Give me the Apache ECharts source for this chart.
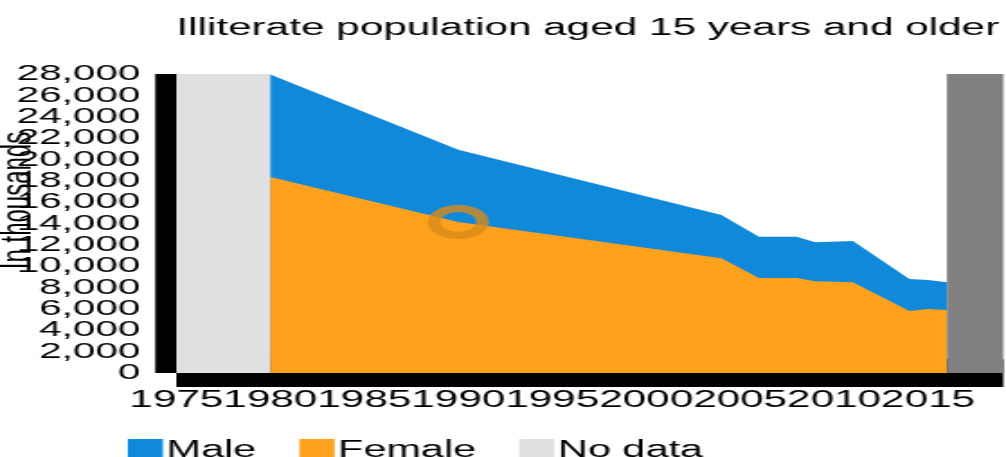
<!DOCTYPE html>
<html>
<head>
<meta charset="utf-8">
<title>Illiterate population aged 15 years and older</title>
<script src="https://cdn.jsdelivr.net/npm/echarts@6/dist/echarts.min.js"></script>
<style>
  html, body { margin: 0; padding: 0; overflow: hidden; background: #fff; }
  /* the chart is laid out on a narrow canvas and widened to the page width */
  #chart { width: 559px; height: 457px; transform: scaleX(1.7996); transform-origin: 0 0; }
</style>
</head>
<body>
<div id="chart"></div>
<script>
// Survey years with data
const years = [1980, 1990, 2004, 2006, 2008, 2009, 2011, 2014, 2015, 2016];
// Illiterate women, thousands
const female = [18350, 14150, 10750, 8900, 8900, 8600, 8500, 5800, 6000, 5900];
// Illiterate men, thousands
const male = [9600, 6750, 4050, 3850, 3850, 3650, 3850, 3000, 2700, 2600];
// Spans without survey figures
const noDataSpans = [[1975, 1980]];
const laterSpan = [2016, 2019];
// Year marked with a ring
const markedYear = 1990;
// Value-axis tick labels
const yTicks = [0, 2000, 4000, 6000, 8000, 10000, 12000, 14000, 16000, 18000, 20000, 22000, 24000, 26000, 28000];

const FONT = '"Liberation Sans", Arial, Helvetica, sans-serif';
const blue = '#1189DB';
const orange = '#FFA11D';
const lightGray = '#E0E0E0';
const darkGray = '#808080';

// men are drawn as the band between the women's total and the combined total
const totalPts = years.map((y, i) => [y, female[i] + male[i]]);
const femalePts = years.map((y, i) => [y, female[i]]);
const ringIdx = years.indexOf(markedYear);

// the tick labels sit closer than their own height, so they are split over two
// coincident axes to keep every one of them drawn
const yTicksEven = yTicks.filter((_, i) => i % 2 === 0);
const yTicksOdd = yTicks.filter((_, i) => i % 2 === 1);

const yLabelStyle = {
  margin: 20,
  hideOverlap: false,
  fontFamily: FONT,
  fontSize: 22.5,
  color: '#000',
  formatter: v => v.toLocaleString('en-US')
};

const chart = echarts.init(document.getElementById('chart'), null, { renderer: 'canvas' });

chart.setOption({
  animation: false,
  textStyle: { fontFamily: FONT, color: '#000' },
  title: {
    text: 'Illiterate population aged 15 years and older',
    left: 93,
    top: 12,
    textStyle: { fontFamily: FONT, fontSize: 23.5, fontWeight: 'normal', color: '#000' }
  },
  legend: {
    data: ['Male', 'Female', 'No data'],
    left: 66,
    top: 434,
    icon: 'rect',
    itemWidth: 19.5,
    itemHeight: 24,
    itemGap: 24,
    textStyle: { fontFamily: FONT, fontSize: 23, color: '#000', padding: [0, 0, 0, -3] }
  },
  grid: { left: 98, right: 1.5, top: 74, bottom: 84, containLabel: false, outerBoundsMode: 'none' },
  xAxis: {
    type: 'value',
    min: 1975,
    max: laterSpan[1],
    interval: 5,
    splitLine: { show: false },
    axisTick: { show: false },
    axisLine: { show: true, onZero: false, lineStyle: { color: '#000', width: 28, cap: 'butt' } },
    axisLabel: {
      margin: 16,
      showMinLabel: true,
      showMaxLabel: true,
      hideOverlap: false,
      fontFamily: FONT,
      fontSize: 23.5,
      color: '#000',
      formatter: v => (v % 5 === 0 ? String(v) : '')
    }
  },
  yAxis: [
    {
      type: 'value',
      position: 'left',
      offset: 0,
      min: yTicks[0],
      max: yTicks[yTicks.length - 1],
      interval: 2000,
      name: 'In thousands',
      nameLocation: 'middle',
      nameRotate: 90,
      nameGap: 76,
      nameMoveOverlap: false,
      nameTextStyle: { fontFamily: FONT, fontSize: 24, color: '#000', padding: [0, 0, 0, 46] },
      splitLine: { show: false },
      axisTick: { show: false },
      axisLine: { show: true, onZero: false, lineStyle: { color: '#000', width: 23.5, cap: 'butt' } },
      axisLabel: Object.assign({ customValues: yTicksEven, showMinLabel: true, showMaxLabel: true }, yLabelStyle)
    },
    {
      type: 'value',
      position: 'left',
      offset: 0,
      min: yTicks[0],
      max: yTicks[yTicks.length - 1],
      interval: 2000,
      splitLine: { show: false },
      axisTick: { show: false },
      axisLine: { show: false },
      axisLabel: Object.assign({ customValues: yTicksOdd }, yLabelStyle)
    }
  ],
  series: [
    {
      name: 'Male',
      type: 'line',
      data: totalPts,
      symbol: 'none',
      lineStyle: { width: 0 },
      areaStyle: { color: blue, opacity: 1 },
      itemStyle: { color: blue },
      z: 3
    },
    {
      name: 'Female',
      type: 'line',
      data: femalePts,
      symbol: 'none',
      lineStyle: { width: 0 },
      areaStyle: { color: orange, opacity: 1 },
      itemStyle: { color: orange },
      z: 4
    },
    {
      name: 'No data',
      type: 'line',
      data: [],
      itemStyle: { color: lightGray },
      lineStyle: { color: lightGray },
      markArea: {
        silent: true,
        data: [
          ...noDataSpans.map(s => [
            { xAxis: s[0], itemStyle: { color: lightGray, opacity: 1 } },
            { xAxis: s[1] }
          ]),
          [
            { xAxis: laterSpan[0], itemStyle: { color: darkGray, opacity: 1 } },
            { xAxis: laterSpan[1] }
          ]
        ]
      },
      z: 2
    },
    {
      name: 'marker',
      type: 'scatter',
      data: [[years[ringIdx], female[ringIdx]]],
      symbol: 'circle',
      symbolSize: 27,
      itemStyle: { color: 'rgba(0,0,0,0)', borderColor: '#D88B19', borderWidth: 7 },
      silent: true,
      z: 5
    }
  ]
});
</script>
</body>
</html>
